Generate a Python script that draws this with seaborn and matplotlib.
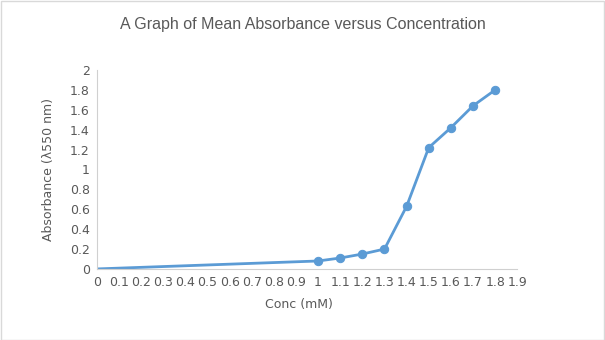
import matplotlib
matplotlib.use("Agg")
import matplotlib.pyplot as plt
import seaborn as sns
import pandas as pd

# Data
conc_base = [0.0, 1.0]
abs_base = [0.0, 0.08]
conc = [1.0, 1.1, 1.2, 1.3, 1.4, 1.5, 1.6, 1.7, 1.8]
absorbance = [0.08, 0.11, 0.15, 0.20, 0.63, 1.22, 1.42, 1.64, 1.80]
x_ticks = [round(i * 0.1, 1) for i in range(20)]
x_labels = ["0"] + [f"{v:g}" for v in x_ticks[1:]]
y_ticks = [round(i * 0.2, 1) for i in range(11)]
y_labels = ["0"] + [f"{v:g}" for v in y_ticks[1:]]

sns.set_style("white")
plt.rcParams['font.family'] = ['DejaVu Sans']

fig = plt.figure(figsize=(6.05, 3.4), dpi=100)
ax = fig.add_axes([0.160, 0.209, 0.695, 0.585])

color = "#5b9bd5"
df_base = pd.DataFrame({"x": conc_base, "y": abs_base})
df = pd.DataFrame({"x": conc, "y": absorbance})
sns.lineplot(data=df_base, x="x", y="y", ax=ax, color=color, lw=2)
sns.lineplot(data=df, x="x", y="y", ax=ax, color=color, lw=2, marker="o",
             markersize=6, markeredgecolor=color, markerfacecolor=color)

ax.set_xlim(0, 1.9)
ax.set_ylim(0, 2)
ax.set_xticks(x_ticks)
ax.set_xticklabels(x_labels)
ax.set_yticks(y_ticks)
ax.set_yticklabels(y_labels)
ax.tick_params(axis="both", length=0, labelsize=9, colors="#595959")
ax.tick_params(axis="x", pad=5)
ax.tick_params(axis="y", pad=5)

for s in ["top", "right"]:
    ax.spines[s].set_visible(False)
for s in ["left", "bottom"]:
    ax.spines[s].set_color("#d0d0d0")
    ax.spines[s].set_linewidth(0.8)

ax.set_xlabel("Conc (mM)", fontsize=9, color="#595959", va="center")
ax.xaxis.set_label_coords(0.48, -0.181)
ax.set_ylabel("Absorbance (λ550 nm)", fontsize=9, color="#595959", va="center")
ax.yaxis.set_label_coords(-0.114, 0.5)

fig.text(0.5, 1 - 25 / 340, "A Graph of Mean Absorbance versus Concentration",
         ha="center", va="center", fontsize=11.5, color="#595959",
         family=["Liberation Sans", "DejaVu Sans"])

border = plt.Rectangle((0.001, 0.001), 0.997, 0.997, transform=fig.transFigure,
                       fill=False, edgecolor="#d9d9d9", lw=1)
fig.patches.append(border)

fig.savefig("out.png", dpi=100, facecolor="white")
